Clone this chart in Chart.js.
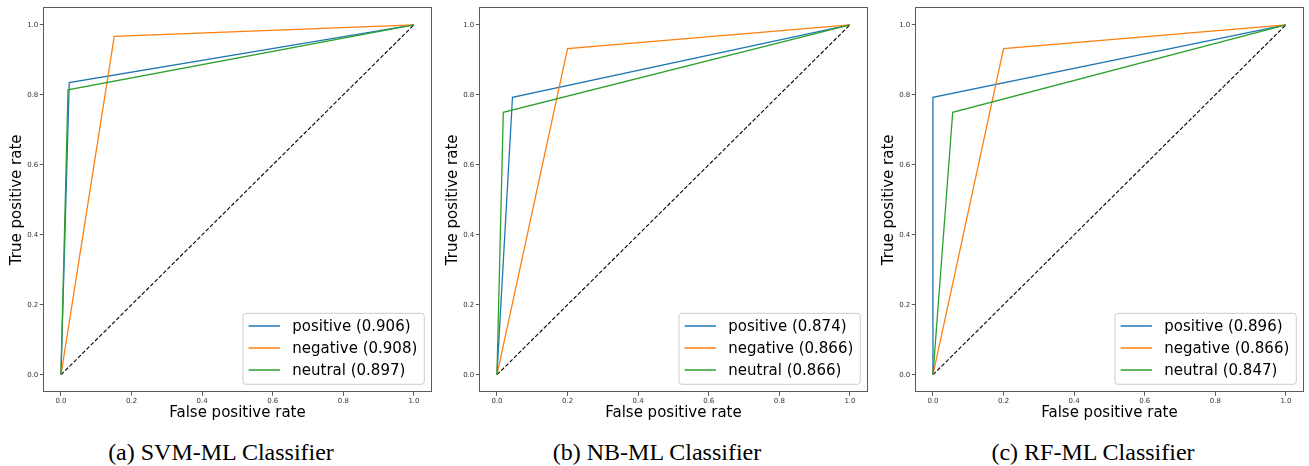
<!DOCTYPE html>
<html><head><meta charset="utf-8">
<script src="https://cdn.jsdelivr.net/npm/chart.js@4"></script>
<style>
body{margin:0;background:#fff;width:1309px;height:466px;overflow:hidden;position:relative}
canvas{position:absolute;top:0}
.cap{position:absolute;top:437px;width:436px;text-align:center;font-family:'Liberation Serif','Times New Roman',serif;font-size:24px;color:#000;line-height:30px;white-space:nowrap}
</style></head><body>
<canvas id="c0" width="436" height="425" style="left:0px"></canvas>
<canvas id="c1" width="436" height="425" style="left:436px"></canvas>
<canvas id="c2" width="436" height="425" style="left:872px"></canvas>
<div class="cap" style="left:3px">(a) SVM-ML Classifier</div>
<div class="cap" style="left:439px">(b) NB-ML Classifier</div>
<div class="cap" style="left:875px">(c) RF-ML Classifier</div>
<script>
const classes = ['positive', 'negative', 'neutral'];
const tickValues = [0, 0.2, 0.4, 0.6, 0.8, 1.0];
const xTitle = 'False positive rate';
const yTitle = 'True positive rate';
const diagonalX = [0, 1];
const diagonalY = [0, 1];

const svmAuc = [0.906, 0.908, 0.897];
const svmFpr = [[0, 0.0235, 1], [0, 0.151, 1], [0, 0.020, 1]];
const svmTpr = [[0, 0.835, 1], [0, 0.967, 1], [0, 0.814, 1]];

const nbAuc = [0.874, 0.866, 0.866];
const nbFpr = [[0, 0.044, 1], [0, 0.200, 1], [0, 0.018, 1]];
const nbTpr = [[0, 0.793, 1], [0, 0.932, 1], [0, 0.750, 1]];

const rfAuc = [0.896, 0.866, 0.847];
const rfFpr = [[0, 0.0, 1], [0, 0.200, 1], [0, 0.056, 1]];
const rfTpr = [[0, 0.793, 1], [0, 0.932, 1], [0, 0.750, 1]];

const colors = ['#1f77b4', '#ff7f0e', '#2ca02c'];
const FONT = "'DejaVu Sans', sans-serif";

const framePlugin = {
  id: 'frameAndText',
  afterDraw(chart) {
    const ctx = chart.ctx, a = chart.chartArea;
    ctx.save();
    ctx.strokeStyle = '#5a5a5a';
    ctx.lineWidth = 1;
    ctx.strokeRect(Math.round(a.left) + 0.5, Math.round(a.top) + 0.5, Math.round(a.right) - Math.round(a.left) - 1, Math.round(a.bottom) - Math.round(a.top) - 1);
    ctx.fillStyle = '#000';
    ctx.font = '15px ' + FONT;
    ctx.textAlign = 'center';
    ctx.textBaseline = 'middle';
    ctx.fillText(xTitle, (a.left + a.right) / 2, a.bottom + 21);
    ctx.save();
    ctx.translate(16.7, (a.top + a.bottom) / 2);
    ctx.rotate(-Math.PI / 2);
    ctx.fillText(yTitle, 0, 0);
    ctx.restore();
    const items = chart.data.datasets.filter(d => d.inLegend);
    ctx.font = '15px ' + FONT;
    let maxW = 0;
    items.forEach(d => { maxW = Math.max(maxW, ctx.measureText(d.label).width); });
    const boxW = 5.6 + 31.4 + 12.3 + maxW + 7;
    const boxH = 71;
    const right = a.right - 7.3, bottom = a.bottom - 8;
    const left = right - boxW, top = bottom - boxH;
    const r = 3;
    ctx.beginPath();
    ctx.moveTo(left + r, top);
    ctx.lineTo(right - r, top); ctx.quadraticCurveTo(right, top, right, top + r);
    ctx.lineTo(right, bottom - r); ctx.quadraticCurveTo(right, bottom, right - r, bottom);
    ctx.lineTo(left + r, bottom); ctx.quadraticCurveTo(left, bottom, left, bottom - r);
    ctx.lineTo(left, top + r); ctx.quadraticCurveTo(left, top, left + r, top);
    ctx.closePath();
    ctx.fillStyle = 'rgba(255,255,255,0.8)';
    ctx.fill();
    ctx.strokeStyle = '#cccccc';
    ctx.lineWidth = 1;
    ctx.stroke();
    items.forEach((d, i) => {
      const y = top + 12.7 + i * 22;
      ctx.strokeStyle = d.borderColor;
      ctx.lineWidth = 1.5;
      ctx.beginPath();
      ctx.moveTo(left + 5.6, y);
      ctx.lineTo(left + 37, y);
      ctx.stroke();
      ctx.fillStyle = '#000';
      ctx.textAlign = 'left';
      ctx.fillText(d.label, left + 49.3, y + 1);
    });
    ctx.restore();
  }
};

function axis(isX) {
  return {
    type: 'linear',
    min: -0.05, max: 1.05,
    afterBuildTicks: s => { s.ticks = tickValues.map(v => ({ value: v })); },
    afterFit: s => { if (isX) s.height = 32.7; else s.width = 43.3; },
    ticks: {
      font: { family: FONT, size: 7 }, color: '#333', padding: 1.5,
      maxRotation: 0, autoSkip: false,
      callback: v => Number(v).toFixed(1)
    },
    grid: { display: true, drawOnChartArea: false, drawTicks: true, tickLength: 3.5, color: '#5a5a5a' },
    border: { display: false }
  };
}

function makeChart(id, fpr, tpr, auc) {
  const datasets = classes.map((c, i) => ({
    label: c + ' (' + auc[i].toFixed(3) + ')',
    inLegend: true,
    data: fpr[i].map((x, j) => ({ x: x, y: tpr[i][j] })),
    borderColor: colors[i], backgroundColor: colors[i],
    borderWidth: 1.3, pointRadius: 0, showLine: true, fill: false, tension: 0,
    order: 3 - i
  }));
  datasets.push({
    label: 'diagonal', inLegend: false,
    data: diagonalX.map((x, j) => ({ x: x, y: diagonalY[j] })),
    borderColor: '#000', borderWidth: 1.1, borderDash: [4, 2],
    pointRadius: 0, showLine: true, fill: false, tension: 0, order: 4
  });
  new Chart(document.getElementById(id), {
    type: 'scatter',
    data: { datasets },
    options: {
      responsive: false, animation: false, devicePixelRatio: 1,
      layout: { padding: { top: 7.3, right: 4.4, left: 0, bottom: 0 } },
      plugins: { legend: { display: false }, tooltip: { enabled: false } },
      scales: { x: axis(true), y: axis(false) }
    },
    plugins: [framePlugin]
  });
}

makeChart('c0', svmFpr, svmTpr, svmAuc);
makeChart('c1', nbFpr, nbTpr, nbAuc);
makeChart('c2', rfFpr, rfTpr, rfAuc);
</script>
</body></html>
